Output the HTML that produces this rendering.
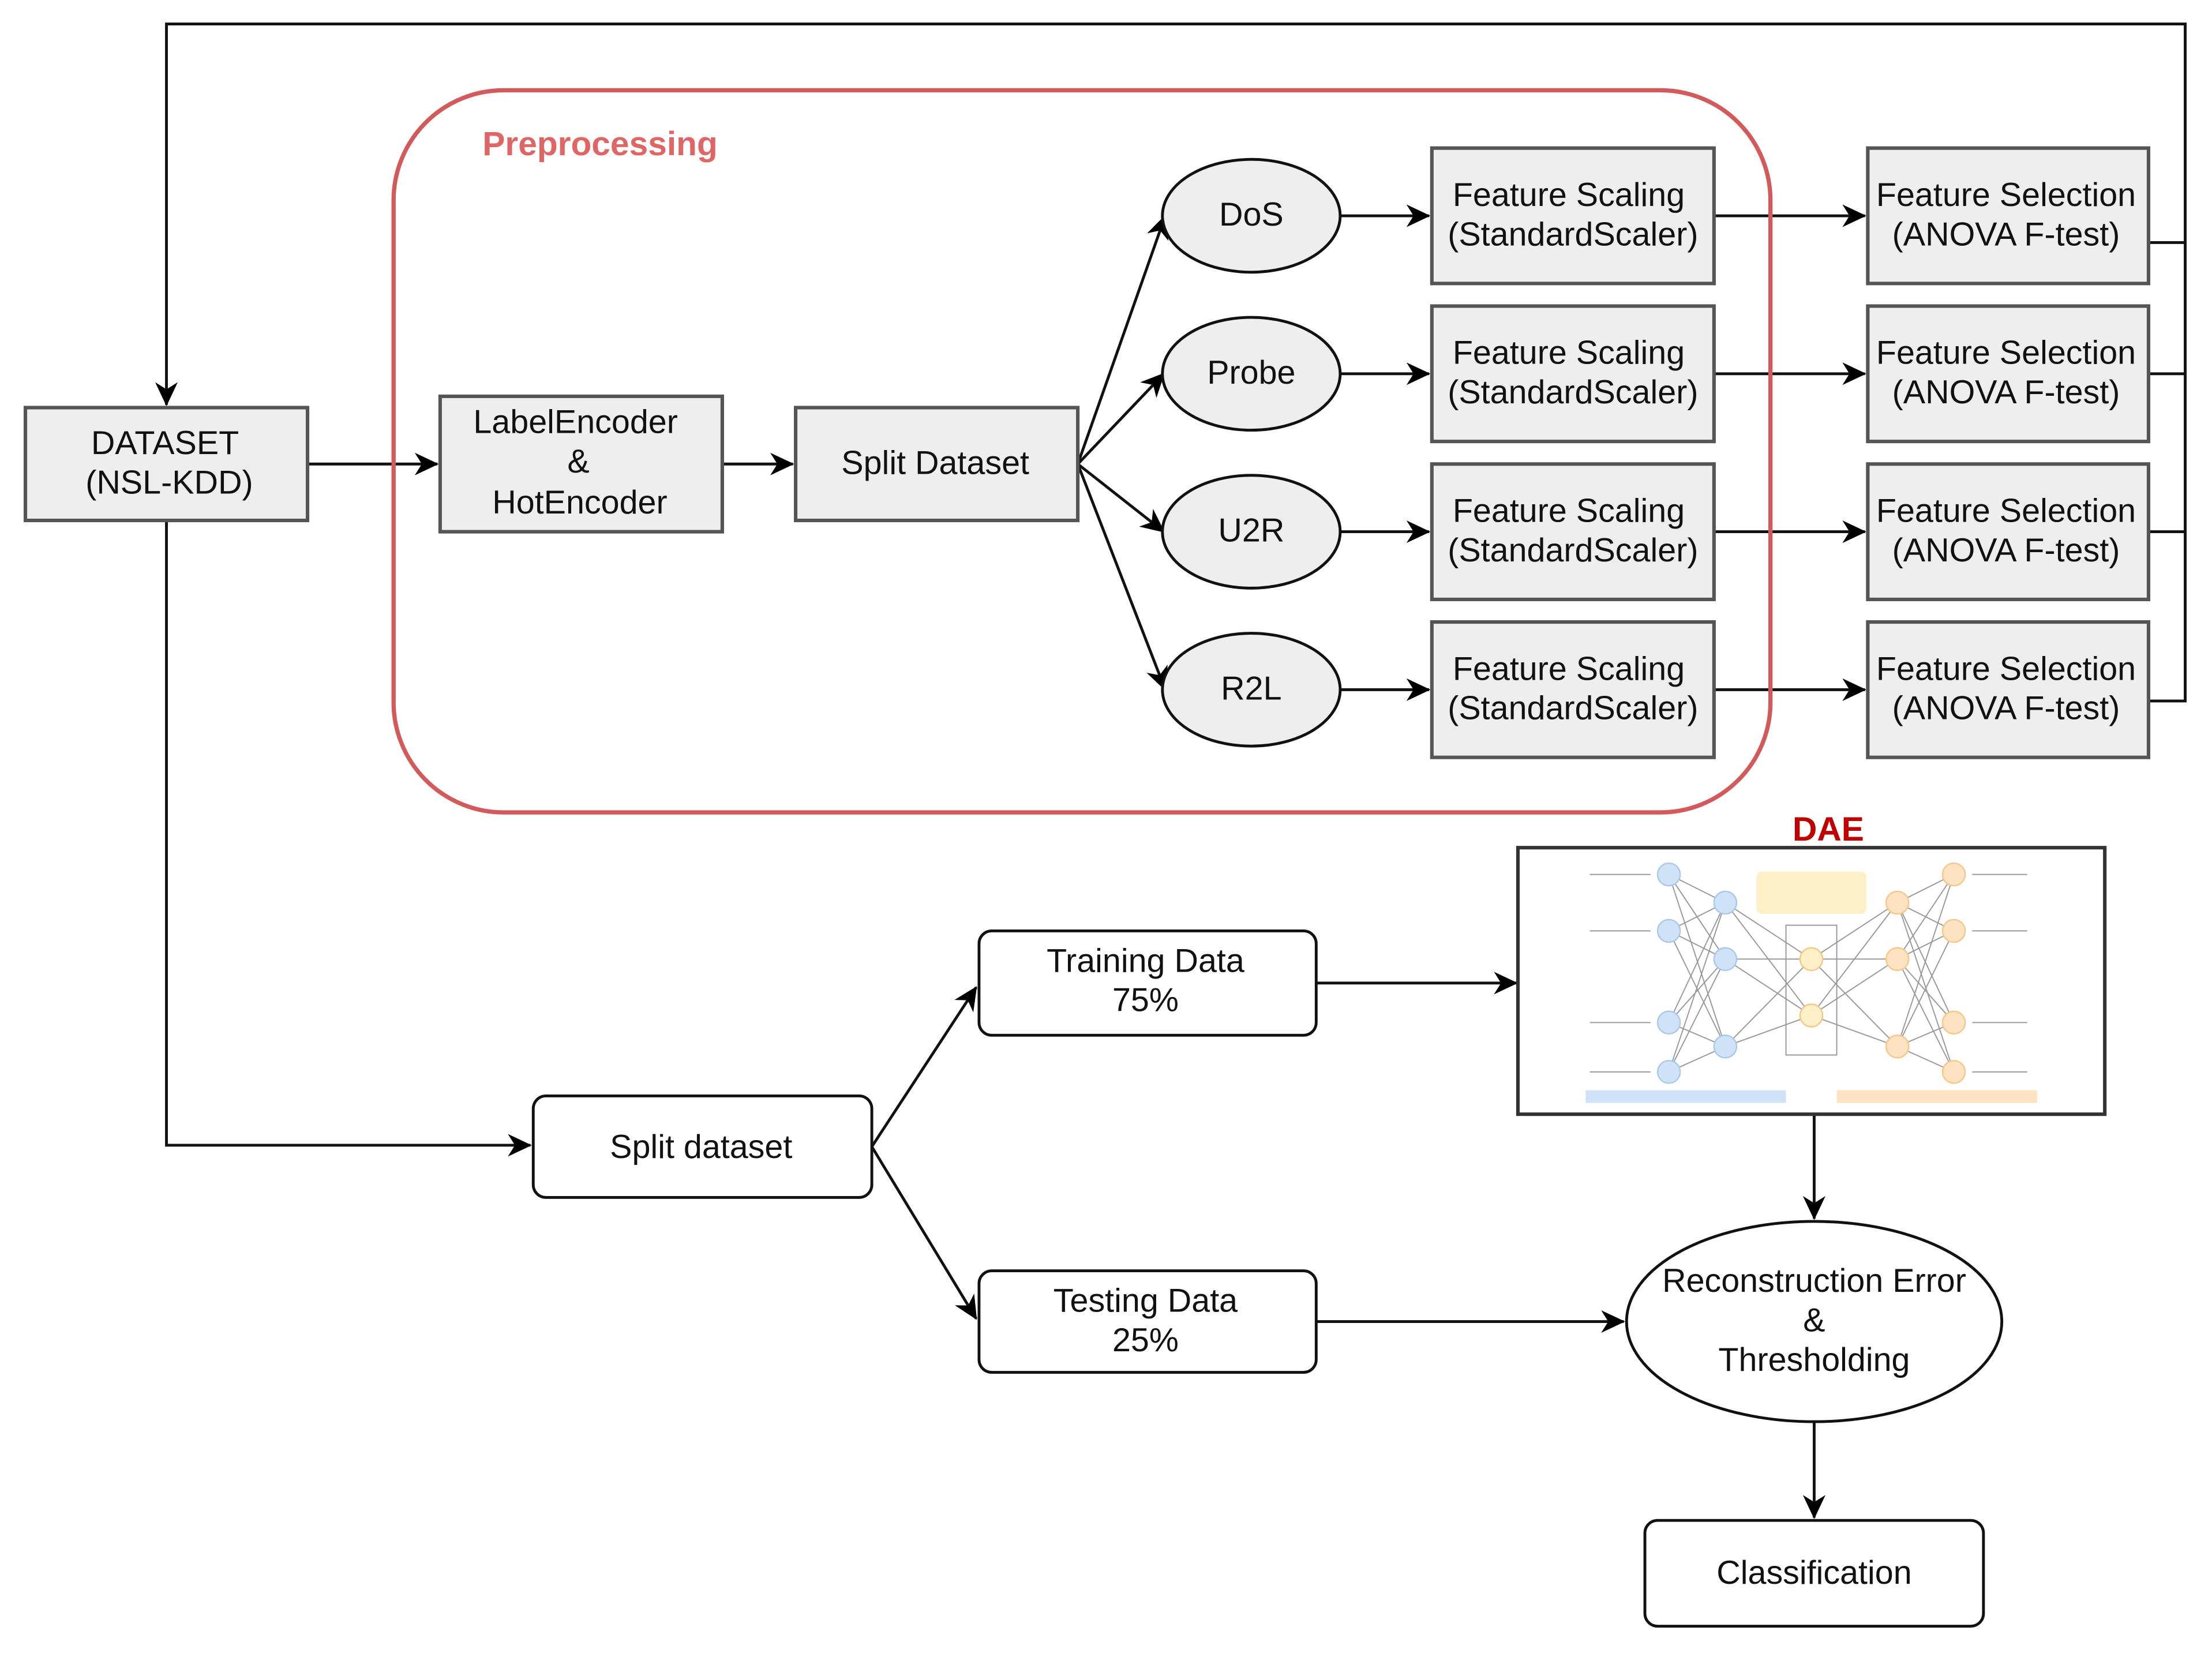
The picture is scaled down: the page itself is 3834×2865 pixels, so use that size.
<!DOCTYPE html>
<html><head><meta charset="utf-8"><style>
html,body{margin:0;padding:0;background:#fff;}
svg{display:block;}
text{font-family:"Liberation Sans",sans-serif;}
</style></head><body>
<svg width="3834" height="2865" viewBox="0 0 1568 1172" preserveAspectRatio="none" xmlns="http://www.w3.org/2000/svg">
<defs>
<marker id="b" markerWidth="18" markerHeight="18" refX="16" refY="9" orient="auto" markerUnits="userSpaceOnUse" viewBox="0 0 18 18">
<path d="M0,1 L17,9 L0,17 L5,9 z" fill="#000"/>
</marker>
</defs>
<g stroke="#111" stroke-width="2" fill="none">
<polyline points="1523,172 1549,172 1549,17 118,17 118,287" marker-end="url(#b)"/>
<line x1="1523" y1="265" x2="1549" y2="265"/>
<line x1="1523" y1="377" x2="1549" y2="377"/>
<polyline points="1523,497 1549,497 1549,172"/>
<line x1="218" y1="329" x2="310" y2="329" marker-end="url(#b)"/>
<line x1="512" y1="329" x2="562" y2="329" marker-end="url(#b)"/>
<line x1="764" y1="329" x2="826" y2="153" marker-end="url(#b)"/>
<line x1="764" y1="329" x2="825" y2="265" marker-end="url(#b)"/>
<line x1="764" y1="329" x2="825" y2="377" marker-end="url(#b)"/>
<line x1="764" y1="329" x2="826" y2="489" marker-end="url(#b)"/>
<line x1="950" y1="153" x2="1013" y2="153" marker-end="url(#b)"/>
<line x1="950" y1="265" x2="1013" y2="265" marker-end="url(#b)"/>
<line x1="950" y1="377" x2="1013" y2="377" marker-end="url(#b)"/>
<line x1="950" y1="489" x2="1013" y2="489" marker-end="url(#b)"/>
<line x1="1215" y1="153" x2="1322" y2="153" marker-end="url(#b)"/>
<line x1="1215" y1="265" x2="1322" y2="265" marker-end="url(#b)"/>
<line x1="1215" y1="377" x2="1322" y2="377" marker-end="url(#b)"/>
<line x1="1215" y1="489" x2="1322" y2="489" marker-end="url(#b)"/>
<polyline points="118,369 118,812 376,812" marker-end="url(#b)"/>
<line x1="618" y1="813" x2="692" y2="700" marker-end="url(#b)"/>
<line x1="618" y1="813" x2="692" y2="935" marker-end="url(#b)"/>
<line x1="933" y1="697" x2="1075" y2="697" marker-end="url(#b)"/>
<line x1="933" y1="937" x2="1151" y2="937" marker-end="url(#b)"/>
<line x1="1286" y1="790" x2="1286" y2="864" marker-end="url(#b)"/>
<line x1="1286" y1="1008" x2="1286" y2="1076" marker-end="url(#b)"/>
</g>
<rect x="279" y="64" width="976" height="512" rx="78" fill="none" stroke="#d35a5a" stroke-width="3"/>
<text x="342" y="110" font-size="24" font-weight="bold" fill="#e06666">Preprocessing</text>
<g fill="#eeeeee" stroke="#555" stroke-width="2.5">
<rect x="18" y="289" width="200" height="80"/>
<rect x="312" y="281" width="200" height="96"/>
<rect x="564" y="289" width="200" height="80"/>
<rect x="1015" y="105" width="200" height="96"/>
<rect x="1015" y="217" width="200" height="96"/>
<rect x="1015" y="329" width="200" height="96"/>
<rect x="1015" y="441" width="200" height="96"/>
<rect x="1324" y="105" width="199" height="96"/>
<rect x="1324" y="217" width="199" height="96"/>
<rect x="1324" y="329" width="199" height="96"/>
<rect x="1324" y="441" width="199" height="96"/>
</g>
<g fill="#eeeeee" stroke="#111" stroke-width="2">
<ellipse cx="887" cy="153" rx="63" ry="40"/>
<ellipse cx="887" cy="265" rx="63" ry="40"/>
<ellipse cx="887" cy="377" rx="63" ry="40"/>
<ellipse cx="887" cy="489" rx="63" ry="40"/>
</g>
<g fill="#fff" stroke="#111" stroke-width="2">
<rect x="378" y="777" width="240" height="72" rx="9"/>
<rect x="694" y="660" width="239" height="74" rx="9"/>
<rect x="694" y="901" width="239" height="72" rx="9"/>
<ellipse cx="1286" cy="937" rx="133" ry="71"/>
<rect x="1166" y="1078" width="240" height="75" rx="9"/>
</g>
<g font-size="23.5" fill="#111" text-anchor="middle">
<text x="117" y="322">DATASET</text><text x="120" y="350">(NSL-KDD)</text>
<text x="408" y="307">LabelEncoder</text><text x="410" y="335">&amp;</text><text x="411" y="364">HotEncoder</text>
<text x="663" y="336">Split Dataset</text>
<text x="887" y="160">DoS</text><text x="887" y="272">Probe</text><text x="887" y="384">U2R</text><text x="887" y="496">R2L</text>
<text x="1112" y="146">Feature Scaling</text><text x="1115" y="174">(StandardScaler)</text>
<text x="1112" y="258">Feature Scaling</text><text x="1115" y="286">(StandardScaler)</text>
<text x="1112" y="370">Feature Scaling</text><text x="1115" y="398">(StandardScaler)</text>
<text x="1112" y="482">Feature Scaling</text><text x="1115" y="510">(StandardScaler)</text>
<text x="1422" y="146">Feature Selection</text><text x="1422" y="174">(ANOVA F-test)</text>
<text x="1422" y="258">Feature Selection</text><text x="1422" y="286">(ANOVA F-test)</text>
<text x="1422" y="370">Feature Selection</text><text x="1422" y="398">(ANOVA F-test)</text>
<text x="1422" y="482">Feature Selection</text><text x="1422" y="510">(ANOVA F-test)</text>
<text x="497" y="821">Split dataset</text>
<text x="812" y="689">Training Data</text><text x="812" y="717">75%</text>
<text x="812" y="930">Testing Data</text><text x="812" y="958">25%</text>
<text x="1286" y="916">Reconstruction Error</text><text x="1286" y="944">&amp;</text><text x="1286" y="972">Thresholding</text>
<text x="1286" y="1123">Classification</text>
</g>
<text x="1296" y="596" font-size="24" font-weight="bold" fill="#c00000" text-anchor="middle">DAE</text>
<rect x="1076" y="601" width="416" height="189" fill="#fff" stroke="#333" stroke-width="2.5"/>
<g stroke="#999" stroke-width="0.8" fill="none">
<path d="M1183,620 L1223,640 M1183,620 L1223,680 M1183,620 L1223,742 M1183,660 L1223,640 M1183,660 L1223,680 M1183,660 L1223,742 M1183,725 L1223,640 M1183,725 L1223,680 M1183,725 L1223,742 M1183,760 L1223,640 M1183,760 L1223,680 M1183,760 L1223,742"/>
<path d="M1223,640 L1284,680 M1223,640 L1284,720 M1223,680 L1284,680 M1223,680 L1284,720 M1223,742 L1284,680 M1223,742 L1284,720"/>
<path d="M1284,680 L1345,640 M1284,680 L1345,680 M1284,680 L1345,742 M1284,720 L1345,640 M1284,720 L1345,680 M1284,720 L1345,742"/>
<path d="M1345,640 L1385,620 M1345,640 L1385,660 M1345,640 L1385,725 M1345,640 L1385,760 M1345,680 L1385,620 M1345,680 L1385,660 M1345,680 L1385,725 M1345,680 L1385,760 M1345,742 L1385,620 M1345,742 L1385,660 M1345,742 L1385,725 M1345,742 L1385,760"/>
<path d="M1127,620 L1170,620 M1127,660 L1170,660 M1127,725 L1170,725 M1127,760 L1170,760 M1398,620 L1437,620 M1398,660 L1437,660 M1398,725 L1437,725 M1398,760 L1437,760"/>
<rect x="1266" y="656" width="36" height="92"/>
</g>
<rect x="1245" y="618" width="78" height="30" rx="4" fill="#fdefc6"/>
<g fill="#cfe2f7" stroke="#a9c8ee" stroke-width="1">
<ellipse cx="1183" cy="620" rx="8" ry="8"/><ellipse cx="1183" cy="660" rx="8" ry="8"/><ellipse cx="1183" cy="725" rx="8" ry="8"/><ellipse cx="1183" cy="760" rx="8" ry="8"/>
<ellipse cx="1223" cy="640" rx="8" ry="8"/><ellipse cx="1223" cy="680" rx="8" ry="8"/><ellipse cx="1223" cy="742" rx="8" ry="8"/>
</g>
<g fill="#fde3c2" stroke="#f7c688" stroke-width="1">
<ellipse cx="1284" cy="680" rx="8" ry="8" fill="#fdefc6"/><ellipse cx="1284" cy="720" rx="8" ry="8" fill="#fdefc6"/>
<ellipse cx="1345" cy="640" rx="8" ry="8"/><ellipse cx="1345" cy="680" rx="8" ry="8"/><ellipse cx="1345" cy="742" rx="8" ry="8"/>
<ellipse cx="1385" cy="620" rx="8" ry="8"/><ellipse cx="1385" cy="660" rx="8" ry="8"/><ellipse cx="1385" cy="725" rx="8" ry="8"/><ellipse cx="1385" cy="760" rx="8" ry="8"/>
</g>
<rect x="1124" y="773" width="142" height="9" fill="#cfe2f7"/>
<rect x="1302" y="773" width="142" height="9" fill="#fde3c2"/>
</svg>
</body></html>
